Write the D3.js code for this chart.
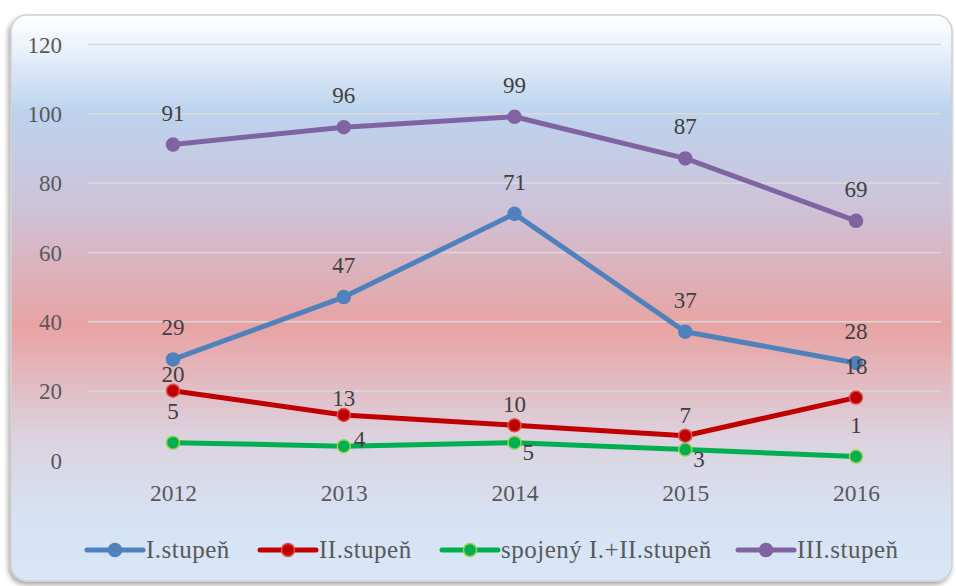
<!DOCTYPE html>
<html><head><meta charset="utf-8">
<script src="https://cdn.jsdelivr.net/npm/d3@7"></script>
<style>body{margin:0;background:#fff;}svg{display:block;}</style>
</head><body>
<script>
const years = ["2012","2013","2014","2015","2016"];
const yTicks = [0,20,40,60,80,100,120];
const seriesNames = ["I.stupeň","II.stupeň","spojený I.+II.stupeň","III.stupeň"];
const valsI = [29,47,71,37,28];
const valsII = [20,13,10,7,18];
const valsSpoj = [5,4,5,3,1];
const valsIII = [91,96,99,87,69];
const lineColors = ["#4f81bd","#c00000","#00b050","#8064a2"];
const markerStroke = ["#4f81bd","#d9534f","#9bd050","#8064a2"];
const labelPlaceI = ["top","top","top","top","top"];
const labelPlaceII = ["near","near","mid","mid","top"];
const labelPlaceSpoj = ["top","right","below","below","top"];
const labelPlaceIII = ["top","top","top","top","top"];

const W=956,H=586;
const svg=d3.select("body").append("svg").attr("width",W).attr("height",H);
const defs=svg.append("defs");
const g=defs.append("linearGradient").attr("id","bg").attr("x1",0).attr("y1",0).attr("x2",0).attr("y2",1);
[[0,"#ffffff"],[0.05,"#eef4fc"],[0.17,"#bcd3ee"],[0.33,"#cdc4da"],[0.55,"#e8a3a3"],[0.75,"#dcd3e0"],[0.9,"#d6e3f5"],[1,"#d8e6f7"]]
 .forEach(([o,c])=>g.append("stop").attr("offset",o).attr("stop-color",c));
const f=defs.append("filter").attr("id","sh").attr("x","-5%").attr("y","-5%").attr("width","110%").attr("height","110%");
f.append("feDropShadow").attr("dx",-2).attr("dy",3).attr("stdDeviation",2.5).attr("flood-color","#000").attr("flood-opacity",0.35);

svg.append("rect").attr("x",11).attr("y",15).attr("width",941).attr("height",566).attr("rx",16)
 .attr("fill","url(#bg)").attr("stroke","#d0d0d0").attr("stroke-width",1.5).attr("filter","url(#sh)");

const x=d3.scalePoint().domain(years).range([173,856]);
const y=d3.scaleLinear().domain([0,120]).range([460,44]);
const font="'Liberation Serif','DejaVu Serif',serif";

const yAxis=svg.append("g").attr("transform","translate(88,0)")
 .call(d3.axisLeft(y).tickValues(yTicks).tickSize(-853).tickPadding(26));
yAxis.select(".domain").remove();
yAxis.selectAll(".tick line").attr("stroke","#d9d9d9").attr("stroke-width",1.5);
yAxis.selectAll(".tick text").attr("font-family",font).attr("font-size",23).attr("fill","#595959").attr("dy","0.35em");

const xAxis=svg.append("g").attr("transform","translate(0,460)").call(d3.axisBottom(x).tickSize(0).tickPadding(24));
xAxis.select(".domain").remove();
xAxis.selectAll(".tick text").attr("font-family",font).attr("font-size",23.5).attr("fill","#595959");

const allVals=[valsI,valsII,valsSpoj,valsIII];
const places=[labelPlaceI,labelPlaceII,labelPlaceSpoj,labelPlaceIII];
const line=d3.line().x((d,i)=>x(years[i])).y(d=>y(d));
const order=[2,1,0,3];
order.forEach(si=>{
  svg.append("path").datum(allVals[si]).attr("d",line).attr("fill","none")
   .attr("stroke",lineColors[si]).attr("stroke-width",5).attr("stroke-linejoin","round");
  svg.selectAll(null).data(allVals[si]).enter().append("circle")
   .attr("cx",(d,i)=>x(years[i])).attr("cy",d=>y(d)).attr("r",6.5)
   .attr("fill",lineColors[si]).attr("stroke",markerStroke[si]).attr("stroke-width",1.5);
});
const dyOf={top:-24,near:-9,mid:-13,right:1,below:17};
order.forEach(si=>{
  svg.selectAll(null).data(allVals[si]).enter().append("text")
   .attr("x",(d,i)=>{const p=places[si][i];return x(years[i])+(p==="right"?10:p==="below"?8:0);})
   .attr("y",(d,i)=>y(d)+dyOf[places[si][i]])
   .attr("text-anchor",(d,i)=>{const p=places[si][i];return (p==="right"||p==="below")?"start":"middle";})
   .attr("font-family",font).attr("font-size",23).attr("fill","#404040").text(d=>d);
});

const legX=[87,260,442,738];
seriesNames.forEach((n,i)=>{
  const lg=svg.append("g").attr("transform",`translate(${legX[i]},550)`);
  lg.append("line").attr("x1",0).attr("x2",56).attr("stroke",lineColors[i]).attr("stroke-width",5).attr("stroke-linecap","round");
  lg.append("circle").attr("cx",28).attr("r",6.5).attr("fill",lineColors[i]).attr("stroke",markerStroke[i]).attr("stroke-width",1.5);
  lg.append("text").attr("x",59).attr("dy","0.33em").attr("font-family",font).attr("font-size",25)
   .attr("letter-spacing",0.5).attr("fill","#595959").text(n);
});
</script>
</body></html>
